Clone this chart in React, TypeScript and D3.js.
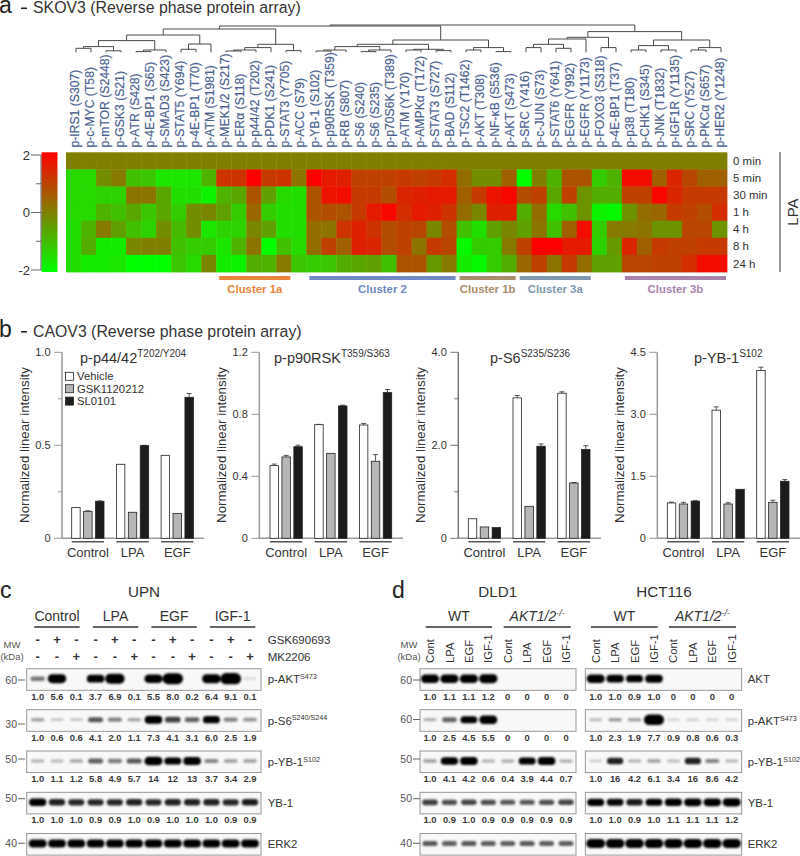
import React from 'react';
import * as d3 from 'd3';

const FONT = '"Liberation Sans", Arial, sans-serif';

// ---- panel a: heat map
const proteins = [
  'p-IRS1 (S307)', 'p-c-MYC (T58)', 'p-mTOR (S2448)', 'p-GSK3 (S21)', 'p-ATR (S428)', 'p-4E-BP1 (S65)',
  'p-SMAD3 (S423)', 'p-STAT5 (Y694)', 'p-4E-BP1 (T70)', 'p-ATM (S1981)', 'p-MEK1/2 (S217)', 'p-ERα (S118)',
  'p-p44/42 (T202)', 'p-PDK1 (S241)', 'p-STAT3 (Y705)', 'p-ACC (S79)', 'p-YB-1 (S102)', 'p-p90RSK (T359)',
  'p-RB (S807)', 'p-S6 (S240)', 'p-S6 (S235)', 'p-p70S6K (T389)', 'p-ATM (Y170)', 'p-AMPKα (T172)',
  'p-STAT3 (S727)', 'p-BAD (S112)', 'p-TSC2 (T1462)', 'p-AKT (T308)', 'p-NF-κB (S536)', 'p-AKT (S473)',
  'p-SRC (Y416)', 'p-c-JUN (S73)', 'p-STAT6 (Y641)', 'p-EGFR (Y992)', 'p-EGFR (Y1173)', 'p-FOXO3 (S318)',
  'p-4E-BP1 (T37)', 'p-p38 (T180)', 'p-CHK1 (S345)', 'p-JNK (T1832)', 'p-IGF1R (Y1135)', 'p-SRC (Y527)',
  'p-PKCα (S657)', 'p-HER2 (Y1248)',
];
const times = ['0 min', '5 min', '30 min', '1 h', '4 h', '8 h', '24 h'];

const row0min = proteins.map(() => 0);
const row5min = [-1.4, -1.4, -0.2, 0.1, -1, -1.1, -1.6, -1.6, -1.6, -0.8, 1.2, 1.2, 2, 1.1, 1.2, 0.2, 2, 1.6, 1.5, 1, 1, 1, 1.1, 1, 1.1, 1.3, 0.3, -0.2, -0.2, 0.5, -2, 0, -0.8, 0.7, 0.7, -1.2, -0.8, 1.8, 1.8, 0.5, 1.4, 0.9, 0.5, 0.5];
const row30min = [-1.4, -1.4, -1.3, -1.3, 0.2, 0.2, -0.6, -1.5, -1.5, -1.8, -0.8, -0.6, 0.7, -0.5, -1.4, -1.5, 0.7, 1.7, 1.8, 1.1, 1.1, 0.8, 1.4, 1.5, 1.6, 1.6, 0.5, 1.1, 1.7, 1.9, 0.8, 1, -0.6, 1, -0.3, -0.7, -0.7, 1, 1, 1.9, 1.4, 1.1, 1.1, 1.1];
const row1h = [-1.4, -1.4, -0.8, -1, -0.6, -1.1, -0.6, -1.2, -0.2, -0.1, -0.5, -1.2, 0.4, -1.2, -1.5, -1.5, 0.7, 0.8, 0.7, 1.1, 1.6, 1.9, 1.3, 1.6, 1.5, 1.2, 0.3, -0.1, 1.5, 1.5, -0.7, 0.3, -1.4, -1, -0.3, -1.8, -1.9, -0.3, 0.3, 0.4, 1.1, 1, 0.8, 1.3];
const row4h = [-1.5, -0.8, 0.1, -0.5, -1, -1.3, -0.2, -0.9, -0.2, -1.6, -1.3, -1.3, -0.1, -0.5, -1.5, -1.5, 0.3, 0.2, 1.2, 1.5, 1.2, 0.8, 1, 0.9, -0.1, 0.8, -1, -1.5, -0.5, -0.1, -0.5, 0.2, -1, 0.5, 1.8, -1.2, 0.1, 0.1, 0.2, -0.3, -0.3, 0.9, 0.9, -0.3];
const row8h = [-1.5, -0.7, -1.7, -1.7, -0.1, 0, 0, -1, -1.2, -1.2, -1.6, -0.8, 0.2, -2, -1, -1.4, 0.3, 1, 0.5, 1.5, 1.4, 0.8, 1, 0.2, 1.1, 0.9, -1.9, -1.2, -1.2, 0.1, 1, 2, 2, 1.6, 1.6, -1.3, -0.4, 1.4, 0.5, 1.1, 1, 1, 1.1, 1.1];
const row24h = [-1.5, -1.7, -1.7, -1.6, -2, -2, -2, -1.1, -1.4, -0.1, -1.7, -1.8, -0.7, -0.8, 0.1, -1.1, -1.2, -1.1, -0.7, -0.6, -0.5, -1, 0.7, 0.7, -0.4, 0.1, -1.7, -1.9, -1.2, -0.7, 0.4, 1, 0.2, 1.1, 0.3, -0.5, -0.5, 0.9, 0.9, 1, 1, 1.3, 1.8, 1.8];
const heatRows = [row0min, row5min, row30min, row1h, row4h, row8h, row24h];

const clusterNames = ['Cluster 1a', 'Cluster 2', 'Cluster 1b', 'Cluster 3a', 'Cluster 3b'];
const clusterFirst = [10, 16, 26, 30, 37];
const clusterLast = [14, 25, 29, 34, 43];
const clusterColors = ['#e8853a', '#7089c4', '#a88c6c', '#7f99b0', '#a884ac'];

type Node = number | { h: number; l: Node; r: Node };
const m = (h: number, l: Node, r: Node): Node => ({ h, l, r });

// merge heights
const dendroLeft = m(23.3,
  m(17.3,
    m(11.7, m(5.7, m(4, 0, 1), m(1.5, 2, 3)), m(2.3, m(0.7, 4, 5), 6)),
    m(8.3, m(3, 7, 8), 9)),
  m(8, m(4.7, m(2.3, m(1.3, 10, 11), 12), 13), m(1.7, 14, 15)));
const dendroMiddle = m(12.3,
  m(8,
    m(5.7, m(2.3, m(1.3, 16, 17), 18), m(2.3, m(0.7, 19, 20), 21)),
    m(3, m(2.3, 22, 23), m(1.7, 24, 25))),
  m(4.7, m(2.3, 26, 27), m(0.7, 28, 29)));
const dendroRight = m(20.7,
  m(15,
    m(13.3, m(8, m(4.7, 30, 31), m(4, 32, 33)), 34),
    m(4.7, 35, 36)),
  m(12.3,
    m(6.7, m(2.3, 37, 38), m(2.3, 39, 40)),
    m(4.7, m(2.3, 41, 42), 43)));
const dendroRoot = m(27.3, m(26.3, dendroLeft, dendroMiddle), dendroRight);

// ---- panel b: bars
const groups = ['Control', 'LPA', 'EGF'];
const treatments = ['Vehicle', 'GSK1120212', 'SL0101'];
const treatmentFill = ['#ffffff', '#b5b6b8', '#1c1c1c'];

const p44Values = [[0.165, 0.398, 0.446], [0.145, 0.14, 0.134], [0.199, 0.498, 0.758]];
const p44Errors = [[0, 0, 0], [0.003, 0, 0], [0.002, 0.002, 0.02]];
const p90Values = [[0.469, 0.733, 0.731], [0.525, 0.548, 0.497], [0.591, 0.854, 0.94]];
const p90Errors = [[0.01, 0.002, 0.01], [0.01, 0, 0.043], [0.01, 0.005, 0.02]];
const s6Values = [[0.42, 3.02, 3.12], [0.244, 0.688, 1.19], [0.23, 1.98, 1.91]];
const s6Errors = [[0, 0.05, 0.03], [0, 0, 0.01], [0, 0.05, 0.08]];
const yb1Values = [[0.855, 3.1, 4.06], [0.83, 0.83, 0.87], [0.9, 1.185, 1.38]];
const yb1Errors = [[0.02, 0.08, 0.08], [0.04, 0.03, 0.05], [0.01, 0, 0.04]];

const barPanels = [
  { name: 'p-p44/42', sup: 'T202/Y204', max: 1, ticks: [1, 0.5, 0], minor: [0.75, 0.25], values: p44Values, errors: p44Errors, axisX: 62, firstBar: 71.7, titleX: 80, right: 204, axis: '#9a9a9a' },
  { name: 'p-p90RSK', sup: 'T359/S363', max: 1.2, ticks: [1.2, 0.8, 0.4, 0], minor: [], values: p90Values, errors: p90Errors, axisX: 259.3, firstBar: 270, titleX: 274, right: 403, axis: '#9a9a9a' },
  { name: 'p-S6', sup: 'S235/S236', max: 4, ticks: [4, 2, 0], minor: [3, 1], values: s6Values, errors: s6Errors, axisX: 458.3, firstBar: 468.3, titleX: 490, right: 601, axis: '#777777' },
  { name: 'p-YB-1', sup: 'S102', max: 4.5, ticks: [4.5, 3, 1.5, 0], minor: [], values: yb1Values, errors: yb1Errors, axisX: 657.3, firstBar: 667.3, titleX: 694, right: 800, axis: '#9a9a9a' },
];
const fmtTick = (v: number) => (v === 0 ? '0' : v.toFixed(1));

// ---- panels c and d: blots
const cHeaders = ['Control', 'LPA', 'EGF', 'IGF-1'];
const gskSigns = ['-', '+', '-', '-', '+', '-', '-', '+', '-', '-', '+', '-'];
const mkSigns = ['-', '-', '+', '-', '-', '+', '-', '-', '+', '-', '-', '+'];

const cAktBands = [0.32, 0.95, 0, 0.8, 1.1, 0, 0.92, 1.25, 0, 0.98, 1.3, 0.02];
const cAktQuant = ['1.0', '5.6', '0.1', '3.7', '6.9', '0.1', '5.5', '8.0', '0.2', '6.4', '9.1', '0.1'];
const cS6Bands = [0.18, 0.07, 0.07, 0.42, 0.28, 0.17, 0.82, 0.5, 0.38, 0.72, 0.28, 0.22];
const cS6Quant = ['1.0', '0.6', '0.6', '4.1', '2.0', '1.1', '7.3', '4.1', '3.1', '6.0', '2.5', '1.9'];
const cYbBands = [0.14, 0.11, 0.17, 0.4, 0.3, 0.42, 0.9, 0.72, 0.82, 0.27, 0.2, 0.2];
const cYbQuant = ['1.0', '1.1', '1.2', '5.8', '4.9', '5.7', '14', '12', '13', '3.7', '3.4', '2.9'];
const cTotalBands = [0.75, 0.6, 0.58, 0.58, 0.58, 0.6, 0.58, 0.6, 0.6, 0.6, 0.58, 0.62];
const cTotalQuant = ['1.0', '1.0', '1.0', '0.9', '0.9', '1.0', '0.9', '1.0', '1.0', '1.0', '0.9', '0.9'];
const cErkBands = [0.85, 0.82, 0.82, 0.82, 0.82, 0.82, 0.85, 0.85, 0.85, 0.85, 0.85, 0.85];

const dldAktBands = [0.9, 0.9, 0.9, 0.95, 0, 0, 0, 0];
const dldAktQuant = ['1.0', '1.1', '1.1', '1.2', '0', '0', '0', '0'];
const dldPaktBands = [0.14, 0.38, 0.7, 0.88, 0, 0, 0, 0];
const dldPaktQuant = ['1.0', '2.5', '4.5', '5.5', '0', '0', '0', '0'];
const dldYbBands = [0.2, 0.78, 0.82, 0.14, 0.15, 0.72, 0.82, 0.15];
const dldYbQuant = ['1.0', '4.1', '4.2', '0.6', '0.4', '3.9', '4.4', '0.7'];
const dldTotalBands = [0.5, 0.45, 0.48, 0.45, 0.42, 0.42, 0.45, 0.48];
const dldTotalQuant = ['1.0', '0.9', '1.0', '0.9', '0.9', '0.9', '0.9', '0.9'];
const dldErkBands = [0.42, 0.4, 0.42, 0.4, 0.4, 0.42, 0.4, 0.4];

const hctAktBands = [0.88, 0.78, 0.72, 0.82, 0, 0, 0, 0];
const hctAktQuant = ['1.0', '1.0', '0.9', '1.0', '0', '0', '0', '0'];
const hctPaktBands = [0.1, 0.2, 0.18, 1.2, 0.03, 0.04, 0.03, 0.03];
const hctPaktQuant = ['1.0', '2.3', '1.9', '7.7', '0.9', '0.8', '0.6', '0.3'];
const hctYbBands = [0.05, 0.6, 0.14, 0.2, 0.1, 0.6, 0.28, 0.12];
const hctYbQuant = ['1.0', '16', '4.2', '6.1', '3.4', '16', '8.6', '4.2'];
const hctTotalBands = [0.72, 0.68, 0.62, 0.7, 0.75, 0.78, 0.78, 0.85];
const hctTotalQuant = ['1.0', '1.0', '0.9', '1.0', '1.1', '1.1', '1.1', '1.2'];
const hctErkBands = [1, 0.95, 0.95, 0.95, 0.95, 0.95, 0.95, 0.95];

const dLanes = ['Cont', 'LPA', 'EGF', 'IGF-1'];
const blotTops = [668.7, 709.7, 751, 792.3, 833.5];
const blotHeight = 21.6;
const quantBase = [700, 741, 782, 823];

const xCol = d3.scaleBand<number>().domain(d3.range(proteins.length)).range([66, 727]);
const yRow = d3.scaleBand<string>().domain(times).range([152.3, 272]);
const heatColor = d3.scaleLinear<string>().domain([-2, 0, 2]).range(['#00ff00', '#808000', '#ff0000']);
const legendY = d3.scaleLinear().domain([-2, 2]).range([270, 155]);
const leafX = d3.scaleLinear().domain([0, proteins.length - 1]).range([76, 721]);
const dendroY = (h: number) => 52.3 - h;

function dendroPaths(n: Node, out: string[]): { x: number; y: number } {
  if (typeof n === 'number') return { x: leafX(n), y: dendroY(0) };
  const a = dendroPaths(n.l, out);
  const b = dendroPaths(n.r, out);
  const y = dendroY(n.h);
  const p = d3.path();
  p.moveTo(a.x, a.y);
  p.lineTo(a.x, y);
  p.lineTo(b.x, y);
  p.lineTo(b.x, b.y);
  out.push(p.toString());
  return { x: (a.x + b.x) / 2, y };
}

function HeatPanel() {
  const paths: string[] = [];
  dendroPaths(dendroRoot, paths);
  return (
    <g>
      <text x={-1} y={13} fontSize={23} fill="#222">a</text>
      <rect x={21} y={7.5} width={6} height={1.6} fill="#222" />
      <text x={33} y={13} fontSize={15.85} fill="#333">SKOV3 (Reverse phase protein array)</text>
      {paths.map((d, i) => <path key={i} d={d} fill="none" stroke="#4a4a4a" strokeWidth={1} />)}
      {proteins.map((p, i) => (
        <text key={p} transform={`translate(${leafX(i) - 1},147.6) rotate(-90)`} dy="0.36em" fontSize={12.2}
          fill="#4c6391" stroke="#4c6391" strokeWidth={0.2}>{p}</text>
      ))}
      {heatRows.map((row, r) => row.map((v, c) => (
        <rect key={`${r}-${c}`} x={xCol(c)} y={yRow(times[r])} width={xCol.bandwidth() + 0.4}
          height={yRow.bandwidth() + 0.4} fill={heatColor(v)} />
      )))}
      {times.map(t => (
        <text key={t} x={733} y={(yRow(t) as number) + yRow.bandwidth() / 2} dy="0.36em" fontSize={11.5} fill="#333">{t}</text>
      ))}
      <line x1={780} x2={780} y1={152} y2={272} stroke="#333" strokeWidth={1} />
      <text transform="translate(798,212) rotate(-90)" textAnchor="middle" fontSize={15} fill="#333">LPA</text>
      <defs>
        <linearGradient id="legendGrad" x1="0" x2="0" y1="0" y2="1">
          <stop offset="0" stopColor={heatColor(2)} />
          <stop offset="0.5" stopColor={heatColor(0)} />
          <stop offset="1" stopColor={heatColor(-2)} />
        </linearGradient>
      </defs>
      <rect x={41.5} y={152.3} width={16} height={119.7} fill="url(#legendGrad)" />
      <line x1={41} x2={41} y1={155} y2={270} stroke="#333" strokeWidth={0.8} />
      {[2, 1, 0, -1, -2].map(t => (
        <g key={t}>
          <line x1={t % 2 === 0 ? 31 : 36} x2={41} y1={legendY(t)} y2={legendY(t)} stroke="#444" strokeWidth={0.8} />
          {t % 2 === 0 && <text x={30} y={legendY(t)} dy="0.36em" textAnchor="end" fontSize={13} fill="#333">{t}</text>}
        </g>
      ))}
      {clusterNames.map((name, i) => {
        const x0 = (xCol(clusterFirst[i]) as number) + 3;
        const x1 = (xCol(clusterLast[i]) as number) + xCol.bandwidth() - 1;
        return (
          <g key={name}>
            <rect x={x0} y={276} width={x1 - x0} height={4} fill={clusterColors[i]} />
            <text x={(x0 + x1) / 2} y={293} textAnchor="middle" fontSize={11.4} fontWeight="bold" fill={clusterColors[i]}>{name}</text>
          </g>
        );
      })}
    </g>
  );
}

function BarPanel({ p, legend }: { p: typeof barPanels[number]; legend?: boolean }) {
  const y = d3.scaleLinear().domain([0, p.max]).range([538.3, 352.3]);
  const step = 44.7;
  const groupW = 32.3;
  const xGroup = d3.scaleBand<string>().domain(groups).range([p.firstBar, p.firstBar + 2 * step + groupW]).paddingInner((step - groupW) / step);
  const xBar = d3.scaleBand<string>().domain(treatments).range([0, xGroup.bandwidth()]).paddingInner(0.29);
  return (
    <g>
      <line x1={p.axisX} x2={p.axisX} y1={y(p.max)} y2={y(0)} stroke={p.axis} strokeWidth={1.5} />
      <line x1={p.axisX} x2={p.right} y1={y(0)} y2={y(0)} stroke="#9a9a9a" strokeWidth={1.5} />
      {p.ticks.map(t => (
        <g key={t}>
          <line x1={p.axisX - 8} x2={p.axisX} y1={y(t)} y2={y(t)} stroke={p.axis} strokeWidth={1} />
          <text x={p.axisX - 11.5} y={y(t)} dy="0.36em" textAnchor="end" fontSize={11} fill="#333">{fmtTick(t)}</text>
        </g>
      ))}
      {p.minor.map(t => <line key={t} x1={p.axisX - 4} x2={p.axisX} y1={y(t)} y2={y(t)} stroke={p.axis} strokeWidth={1} />)}
      <text transform={`translate(${p.axisX - 33},445) rotate(-90)`} textAnchor="middle" fontSize={13.3} fill="#333">Normalized linear intensity</text>
      <text x={p.titleX} y={362.7} fontSize={14.5} fill="#333">{p.name}<tspan dy={-6} fontSize={10}>{p.sup}</tspan></text>
      {groups.map((g, gi) => {
        const gx = xGroup(g) as number;
        return (
          <g key={g}>
            {treatments.map((t, ti) => {
              const v = p.values[ti][gi];
              const e = p.errors[ti][gi];
              const bx = gx + (xBar(t) as number);
              const cx = bx + xBar.bandwidth() / 2;
              return (
                <g key={t}>
                  {e > 0 && (
                    <path d={`M${cx},${y(v)}V${y(v + e)}M${cx - 2.5},${y(v + e)}H${cx + 2.5}`} fill="none" stroke="#444" strokeWidth={0.9} />
                  )}
                  <rect x={bx} y={y(v)} width={xBar.bandwidth()} height={y(0) - y(v)} fill={treatmentFill[ti]} stroke="#222" strokeWidth={0.8} />
                </g>
              );
            })}
            <line x1={gx} x2={gx + xGroup.bandwidth()} y1={541.8} y2={541.8} stroke="#555" strokeWidth={1.6} />
            <text x={gx + xGroup.bandwidth() / 2} y={557} textAnchor="middle" fontSize={13} fill="#333">{g}</text>
          </g>
        );
      })}
      {legend && treatments.map((t, i) => (
        <g key={t}>
          <rect x={65.5} y={372.3 + i * 12.4} width={8} height={8} fill={treatmentFill[i]} stroke="#222" strokeWidth={0.8} />
          <text x={77} y={380.3 + i * 12.4} fontSize={11.3} fill="#333">{t}</text>
        </g>
      ))}
    </g>
  );
}

function Blot({ x0, x1, lanes, top, bands, offset = 10 }: { x0: number; x1: number; lanes: d3.ScalePoint<number>; top: number; bands: number[]; offset?: number }) {
  const rw = d3.scaleLinear().domain([0, 1]).range([6.2, 9.4]);
  const rh = d3.scaleLinear().domain([0, 1]).range([1.1, 4.6]);
  return (
    <g>
      <rect x={x0} y={top} width={x1 - x0} height={blotHeight} fill="#f8f8f8" stroke="#8e8e8e" strokeWidth={0.9} />
      <g filter="url(#bandBlur)">
        {bands.map((s, i) => s > 0 && (
          <rect key={i} x={(lanes(i) as number) - rw(s)} y={top + offset - rh(s)} width={rw(s) * 2} height={rh(s) * 2}
            rx={rh(s)} fill="#000" opacity={Math.min(1, 0.12 + s * 1.25)} />
        ))}
      </g>
    </g>
  );
}

function Quants({ lanes, values, y }: { lanes: d3.ScalePoint<number>; values: string[]; y: number }) {
  return (
    <g>
      {values.map((q, i) => (
        <text key={i} x={lanes(i)} y={y} textAnchor="middle" fontSize={9.4} fontWeight="bold" fill="#3a3a3a">{q}</text>
      ))}
    </g>
  );
}

function ProteinLabel({ x, y, name, sup }: { x: number; y: number; name: string; sup?: string }) {
  return (
    <text x={x} y={y} fontSize={11.4} fill="#333">{name}{sup && <tspan dy={-4.5} fontSize={7.2}>{sup}</tspan>}</text>
  );
}

function MwTick({ right, y, label }: { right: number; y: number; label: string }) {
  return (
    <g>
      <text x={right - 8} y={y} dy="0.36em" textAnchor="end" fontSize={10.5} fill="#555">{label}</text>
      <line x1={right - 7} x2={right} y1={y} y2={y} stroke="#555" strokeWidth={0.9} />
    </g>
  );
}

function BlotPanelC() {
  const lanes = d3.scalePoint<number>().domain(d3.range(12)).range([37.7, 250]);
  const rows = [cAktBands, cS6Bands, cYbBands, cTotalBands, cErkBands];
  const quants = [cAktQuant, cS6Quant, cYbQuant, cTotalQuant];
  const groupX = d3.scaleBand<string>().domain(cHeaders).range([34.3, 255.3]).paddingInner(0.2245);
  const mw = [680, 724, 759, 798.7, 843.3];
  const mwLabels = ['60', '30', '50', '50', '40'];
  const labels: [string, string?][] = [['p-AKT', 'S473'], ['p-S6', 'S240/S244'], ['p-YB-1', 'S102'], ['YB-1'], ['ERK2']];
  const labelY = [683, 724.5, 766, 807, 848];
  return (
    <g>
      <text x={0} y={598} fontSize={23} fill="#222">c</text>
      <text x={144} y={597} textAnchor="middle" fontSize={15.2} fill="#333">UPN</text>
      {cHeaders.map(h => (
        <g key={h}>
          <text x={(groupX(h) as number) + groupX.bandwidth() / 2} y={620.7} textAnchor="middle" fontSize={14} fill="#333">{h}</text>
          <line x1={groupX(h)} x2={(groupX(h) as number) + groupX.bandwidth()} y1={627} y2={627} stroke="#333" strokeWidth={1.3} />
        </g>
      ))}
      {gskSigns.map((s, i) => <text key={i} x={lanes(i)} y={643.5} textAnchor="middle" fontSize={13} fontWeight="bold" fill="#333">{s}</text>)}
      {mkSigns.map((s, i) => <text key={i} x={lanes(i)} y={661} textAnchor="middle" fontSize={13} fontWeight="bold" fill="#333">{s}</text>)}
      <text x={267.7} y={644} fontSize={11.5} fill="#333">GSK690693</text>
      <text x={267.7} y={660.5} fontSize={11.5} fill="#333">MK2206</text>
      <text x={12} y={648} textAnchor="middle" fontSize={9.5} fill="#555">MW</text>
      <text x={12} y={660} textAnchor="middle" fontSize={9.5} fill="#555">(kDa)</text>
      {rows.map((b, i) => <Blot key={i} x0={26.7} x1={261} lanes={lanes} top={blotTops[i]} bands={b} />)}
      {quants.map((q, i) => <Quants key={i} lanes={lanes} values={q} y={quantBase[i]} />)}
      {mw.map((y, i) => <MwTick key={i} right={25} y={y} label={mwLabels[i]} />)}
      {labels.map(([n, s], i) => <ProteinLabel key={n} x={267.7} y={labelY[i]} name={n} sup={s} />)}
    </g>
  );
}

function BlotPanelD() {
  const left = d3.scalePoint<number>().domain(d3.range(8)).range([430, 566]);
  const right = d3.scalePoint<number>().domain(d3.range(8)).range([595.7, 731.7]);
  const leftRows = [dldAktBands, dldPaktBands, dldYbBands, dldTotalBands, dldErkBands];
  const rightRows = [hctAktBands, hctPaktBands, hctYbBands, hctTotalBands, hctErkBands];
  const leftQuants = [dldAktQuant, dldPaktQuant, dldYbQuant, dldTotalQuant];
  const rightQuants = [hctAktQuant, hctPaktQuant, hctYbQuant, hctTotalQuant];
  const mw = [680, 719.5, 759, 798.7, 843.3];
  const mwLabels = ['60', '60', '50', '50', '40'];
  const labels: [string, string?][] = [['AKT'], ['p-AKT', 'S473'], ['p-YB-1', 'S102'], ['YB-1'], ['ERK2']];
  const labelY = [683, 725, 766, 807, 848];
  const headers: [string, number, number][] = [['WT', 425.7, 492], ['AKT', 503.7, 570.7], ['WT', 591, 657.7], ['AKT', 669, 736]];
  return (
    <g>
      <text x={392} y={598} fontSize={23} fill="#222">d</text>
      <text x={497.7} y={597} textAnchor="middle" fontSize={15.2} fill="#333">DLD1</text>
      <text x={664} y={597} textAnchor="middle" fontSize={15.2} fill="#333">HCT116</text>
      {headers.map(([h, x0, x1], i) => (
        <g key={i}>
          {h === 'WT'
            ? <text x={(x0 + x1) / 2} y={620.7} textAnchor="middle" fontSize={14} fill="#333">WT</text>
            : <text x={(x0 + x1) / 2} y={620.7} textAnchor="middle" fontSize={14} fontStyle="italic" fill="#333">AKT1/2<tspan dy={-5} fontSize={9}>-/-</tspan></text>}
          <line x1={x0} x2={x1} y1={627} y2={627} stroke="#333" strokeWidth={1.3} />
        </g>
      ))}
      {[left, right].map((lanes, k) => d3.range(8).map(i => (
        <text key={`${k}-${i}`} transform={`translate(${lanes(i)},663) rotate(-90)`} dy="0.36em" fontSize={11.3} fill="#333">{dLanes[i % 4]}</text>
      )))}
      <text x={409} y={648} textAnchor="middle" fontSize={9.5} fill="#555">MW</text>
      <text x={409} y={660} textAnchor="middle" fontSize={9.5} fill="#555">(kDa)</text>
      {leftRows.map((b, i) => <Blot key={i} x0={420} x1={576} lanes={left} top={blotTops[i]} bands={b} />)}
      {rightRows.map((b, i) => <Blot key={i} x0={585.3} x1={741.7} lanes={right} top={blotTops[i]} bands={b} />)}
      {leftQuants.map((q, i) => <Quants key={i} lanes={left} values={q} y={quantBase[i]} />)}
      {rightQuants.map((q, i) => <Quants key={i} lanes={right} values={q} y={quantBase[i]} />)}
      {mw.map((y, i) => <MwTick key={i} right={420} y={y} label={mwLabels[i]} />)}
      {labels.map(([n, s], i) => <ProteinLabel key={n} x={747.7} y={labelY[i]} name={n} sup={s} />)}
    </g>
  );
}

export default function App() {
  return (
    <svg width={800} height={856} viewBox="0 0 800 856" fontFamily={FONT} style={{ position: 'absolute', left: 0, top: 0, background: '#fff' }}>
      <defs>
        <filter id="bandBlur" x="-10%" y="-30%" width="120%" height="160%">
          <feGaussianBlur stdDeviation="1" />
        </filter>
      </defs>
      <HeatPanel />
      <text x={-1} y={337} fontSize={23} fill="#222">b</text>
      <rect x={21} y={331} width={6} height={1.6} fill="#222" />
      <text x={33} y={337} fontSize={15.85} fill="#333">CAOV3 (Reverse phase protein array)</text>
      {barPanels.map((p, i) => <BarPanel key={p.name} p={p} legend={i === 0} />)}
      <BlotPanelC />
      <BlotPanelD />
    </svg>
  );
}
